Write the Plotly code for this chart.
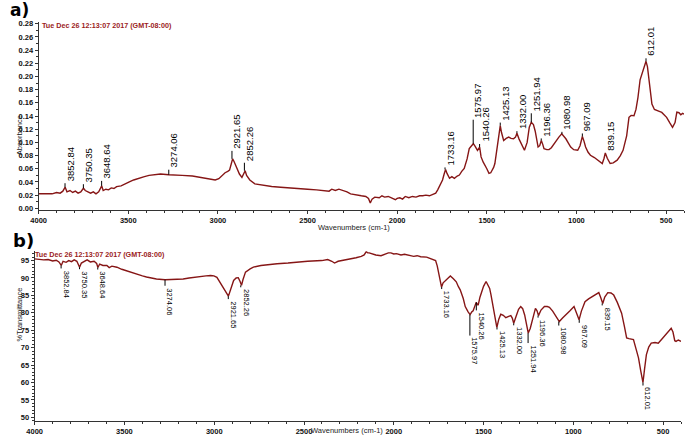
import plotly.graph_objects as go

# ---- data ----
wn_abs = [4000, 3975, 3950, 3925, 3900, 3880, 3865, 3852, 3842, 3825, 3810, 3795, 3780, 3765,
          3750, 3740, 3725, 3710, 3695, 3680, 3665, 3648, 3640, 3625, 3610, 3595, 3580, 3565,
          3540, 3520, 3494, 3470, 3439, 3410, 3384, 3350, 3320, 3274, 3240, 3200, 3142, 3100,
          3070, 3040, 3015, 2995, 2975, 2960, 2945, 2935, 2925, 2918, 2910, 2895, 2880, 2866,
          2855, 2848, 2840, 2822, 2794, 2750, 2700, 2650, 2612, 2550, 2500, 2450, 2400, 2380,
          2365, 2345, 2325, 2310, 2280, 2260, 2230, 2200, 2175, 2160, 2150, 2140, 2125, 2100,
          2085, 2070, 2050, 2030, 2010, 2000, 1985, 1970, 1955, 1935, 1915, 1895, 1875, 1857,
          1840, 1820, 1802, 1785, 1774, 1760, 1747, 1738, 1730, 1722, 1715, 1708, 1695, 1681,
          1665, 1653, 1640, 1626, 1610, 1598, 1585, 1575, 1565, 1552, 1540, 1532, 1520, 1510,
          1500, 1488, 1478, 1472, 1462, 1455, 1445, 1433, 1425, 1418, 1406, 1392, 1378, 1365,
          1351, 1340, 1332, 1320, 1307, 1290, 1275, 1263, 1252, 1240, 1230, 1214, 1205, 1196,
          1188, 1181, 1165, 1153, 1140, 1126, 1110, 1098, 1082, 1070, 1059, 1045, 1032, 1015,
          993, 980, 967, 958, 949, 935, 922, 900, 883, 870, 856, 846, 839, 828, 812, 795, 773,
          755, 740, 720, 707, 695, 679, 668, 657, 645, 629, 620, 612, 604, 596, 585, 579, 565,
          552, 538, 524, 510, 497, 480, 464, 450, 440, 428, 418, 408, 400]
absorbance = [0.022, 0.022, 0.023, 0.022, 0.024, 0.023, 0.026, 0.032, 0.025, 0.027, 0.024, 0.026,
              0.023, 0.025, 0.0305, 0.027, 0.025, 0.023, 0.025, 0.022, 0.025, 0.034, 0.027, 0.029,
              0.028, 0.031, 0.030, 0.033, 0.034, 0.037, 0.040, 0.043, 0.046, 0.048, 0.050, 0.051,
              0.052, 0.051, 0.051, 0.050, 0.049, 0.047, 0.046, 0.045, 0.043, 0.045, 0.050, 0.054,
              0.056, 0.058, 0.068, 0.075, 0.071, 0.060, 0.052, 0.047, 0.052, 0.057, 0.050, 0.043,
              0.037, 0.035, 0.033, 0.032, 0.031, 0.030, 0.029, 0.028, 0.027, 0.026, 0.029, 0.027,
              0.029, 0.028, 0.025, 0.022, 0.020, 0.019, 0.018, 0.015, 0.008, 0.014, 0.017, 0.016,
              0.019, 0.017, 0.018, 0.016, 0.013, 0.015, 0.016, 0.014, 0.018, 0.016, 0.018, 0.017,
              0.019, 0.019, 0.020, 0.019, 0.021, 0.023, 0.028, 0.036, 0.043, 0.052, 0.059, 0.053,
              0.050, 0.0455, 0.048, 0.0455, 0.049, 0.0505, 0.056, 0.0605, 0.075, 0.0905, 0.095,
              0.098, 0.094, 0.088, 0.093, 0.078, 0.070, 0.0655, 0.060, 0.053, 0.054, 0.057, 0.062,
              0.068, 0.085, 0.108, 0.1255, 0.115, 0.103, 0.106, 0.108, 0.106, 0.1055, 0.108, 0.114,
              0.105, 0.098, 0.088, 0.100, 0.123, 0.1305, 0.127, 0.117, 0.093, 0.095, 0.103, 0.097,
              0.0905, 0.089, 0.089, 0.092, 0.098, 0.104, 0.108, 0.113, 0.109, 0.1055, 0.099, 0.093,
              0.089, 0.088, 0.095, 0.109, 0.102, 0.093, 0.085, 0.0805, 0.077, 0.074, 0.071, 0.068,
              0.076, 0.084, 0.076, 0.068, 0.069, 0.073, 0.080, 0.088, 0.110, 0.138, 0.141, 0.1405,
              0.150, 0.168, 0.195, 0.208, 0.215, 0.223, 0.215, 0.198, 0.172, 0.158, 0.150, 0.148,
              0.147, 0.1455, 0.142, 0.138, 0.130, 0.123, 0.130, 0.146, 0.145, 0.142, 0.144, 0.143]

wn_trans = [4000, 3975, 3950, 3925, 3900, 3880, 3865, 3852, 3842, 3825, 3810, 3795, 3780, 3765,
            3750, 3740, 3725, 3708, 3690, 3669, 3655, 3648, 3638, 3620, 3598, 3585, 3570, 3542,
            3515, 3487, 3460, 3432, 3400, 3377, 3350, 3322, 3274, 3250, 3210, 3173, 3140, 3101,
            3070, 3046, 3020, 3002, 2985, 2975, 2960, 2947, 2935, 2921, 2910, 2900, 2892, 2878,
            2866, 2856, 2848, 2840, 2826, 2800, 2782, 2740, 2700, 2650, 2589, 2540, 2480, 2401,
            2368, 2345, 2330, 2310, 2290, 2275, 2240, 2210, 2181, 2165, 2153, 2145, 2137, 2120,
            2100, 2071, 2050, 2030, 2016, 2000, 1985, 1960, 1940, 1920, 1889, 1870, 1850, 1817,
            1800, 1780, 1767, 1758, 1751, 1742, 1734, 1725, 1712, 1700, 1685, 1668, 1652, 1640,
            1630, 1613, 1602, 1586, 1575, 1565, 1558, 1548, 1541, 1535, 1530, 1520, 1514, 1500,
            1486, 1475, 1466, 1459, 1445, 1435, 1426, 1415, 1404, 1390, 1376, 1360, 1348, 1340,
            1332, 1320, 1305, 1293, 1282, 1271, 1260, 1251, 1240, 1227, 1211, 1202, 1194, 1180,
            1161, 1145, 1133, 1115, 1095, 1078, 1060, 1045, 1020, 996, 985, 968, 955, 935, 915,
            896, 875, 858, 848, 836, 825, 808, 790, 775, 755, 731, 715, 703, 690, 665, 650, 637,
            625, 612, 603, 593, 580, 566, 545, 527, 510, 494, 475, 455, 445, 435, 428, 415, 400]
transmittance = [95.5, 95.3, 95.2, 95.3, 94.9, 95.1, 94.6, 93.6, 94.8, 94.5, 95.0, 94.7, 95.2,
                 94.8, 93.1, 94.3, 94.8, 95.2, 94.6, 94.8, 94.2, 93.0, 94.0, 93.6, 93.6, 93.0,
                 93.4, 93.1, 92.5, 92.0, 91.5, 91.0, 90.6, 90.3, 90.0, 89.7, 89.5, 89.5, 89.6,
                 89.7, 90.0, 90.3, 90.5, 90.6, 90.7, 90.6, 90.2, 89.3, 88.2, 87.0, 86.0, 84.8,
                 86.5, 88.5, 89.3, 90.0, 90.1, 89.0, 87.9, 89.5, 91.7, 92.6, 93.1, 93.6, 93.9,
                 94.1, 94.3, 94.6, 94.8, 95.0, 95.3, 94.8, 94.3, 94.8, 95.0, 95.0, 95.5, 95.8,
                 96.2, 96.6, 97.6, 97.2, 97.2, 96.9, 96.6, 96.4, 96.8, 97.2, 97.2, 96.9, 97.0,
                 96.6, 96.8, 96.5, 96.2, 96.4, 96.1, 96.0, 95.7, 95.3, 95.0, 93.5, 91.7, 89.5,
                 87.4, 88.6, 89.3, 90.0, 90.6, 89.8, 88.9, 87.5, 86.6, 84.1, 81.8, 80.3, 79.5,
                 80.3, 80.6, 82.0, 83.0, 82.5, 82.2, 84.5, 85.5, 87.6, 89.0, 88.0, 87.0, 85.3,
                 81.5, 78.0, 75.8, 78.2, 79.6, 79.3, 78.6, 79.0, 79.2, 78.5, 77.0, 78.8, 81.0,
                 81.8, 81.2, 79.4, 76.5, 74.2, 75.5, 78.4, 81.3, 80.6, 79.2, 80.8, 81.8, 81.8,
                 81.6, 80.5, 78.8, 77.5, 78.5, 79.2, 80.5, 81.8, 80.5, 78.0, 80.5, 83.2, 84.0,
                 84.6, 85.2, 85.8, 84.5, 82.7, 84.5, 85.8, 85.7, 85.1, 83.0, 79.9, 76.0, 72.8,
                 72.6, 72.3, 69.5, 67.1, 63.5, 60.0, 64.0, 68.0, 70.2, 71.3, 71.5, 71.3, 72.3,
                 73.2, 74.5, 75.6, 74.5, 72.0, 71.8, 72.2, 71.8]

peak_labels = ["3852.84", "3750.35", "3648.64", "3274.06", "2921.65", "2852.26", "1733.16",
               "1575.97", "1540.26", "1425.13", "1332.00", "1251.94", "1196.36", "1080.98",
               "967.09", "839.15", "612.01"]
peak_abs = [0.032, 0.0305, 0.034, 0.051, 0.075, 0.057, 0.059, 0.098, 0.093, 0.1255, 0.114,
            0.1305, 0.103, 0.113, 0.109, 0.084, 0.223]
peak_trans = [93.6, 93.1, 93.0, 89.5, 84.8, 87.9, 87.4, 79.5, 83.0, 75.8, 77.0, 74.2, 79.2,
              77.5, 78.0, 82.7, 60.0]

abs_ticks = [round(0.02 * i, 2) for i in range(15)]
trans_ticks = list(range(50, 100, 5))
wn_ticks = list(range(4000, 0, -500))

# ---- styling / layout helpers ----
W, H = 685, 444
LINE = "#861616"
STAMP = "Tue Dec 26 12:13:07 2017 (GMT-08:00)"
FONT = "Liberation Sans"
# label stem length in px (from peak to label)
stem_a = [4, 4, 5, 5, 8, 8, 2, 24, 3, 3, 2, 9, 2, 2, 3, 0, 3]
stem_b = [3, 2, 2, 6, 3, 2, 2, 21, 8, 2, 2, 10, 2, 4, 3, 2, 3]


def px(v, total):
    return v / total


fig = go.Figure()
fig.add_trace(go.Scatter(x=wn_abs, y=absorbance, mode="lines", xaxis="x", yaxis="y",
                         line=dict(color=LINE, width=1.4), showlegend=False))
fig.add_trace(go.Scatter(x=wn_trans, y=transmittance, mode="lines", xaxis="x2", yaxis="y2",
                         line=dict(color=LINE, width=1.4), showlegend=False))

tick_font = dict(family=FONT, size=7.5, color="#111", weight="bold")
axis_common = dict(showline=True, linecolor="#333", linewidth=1, showgrid=False,
                   zeroline=False, ticks="outside", ticklen=3, tickcolor="#333",
                   tickfont=tick_font)
minor_x = dict(dtick=100, ticklen=2, ticks="outside", tickcolor="#333")

fig.update_layout(
    width=W, height=H,
    margin=dict(l=0, r=0, t=0, b=0),
    paper_bgcolor="white", plot_bgcolor="white",
    xaxis=dict(domain=[px(31, W), px(684, W)], range=[4000, 400], anchor="y",
               tickvals=wn_ticks, minor=minor_x, **axis_common),
    yaxis=dict(domain=[1 - px(210, H), 1 - px(20, H)], range=[-0.002, 0.283], anchor="x",
               tickvals=abs_ticks, tickformat=".2f",
               minor=dict(dtick=0.01, ticklen=2, ticks="outside", tickcolor="#333"),
               **axis_common),
    xaxis2=dict(domain=[px(27, W), px(681, W)], range=[4000, 400], anchor="y2",
                tickvals=wn_ticks, minor=minor_x, **axis_common),
    yaxis2=dict(domain=[1 - px(424, H), 1 - px(252, H)], range=[48.9, 97.7], anchor="x2",
                tickvals=trans_ticks,
                minor=dict(dtick=1, ticklen=2, ticks="outside", tickcolor="#333"),
                **axis_common),
)

annotations = []
shapes = []
for lab, a, t, sa, sb in zip(peak_labels, peak_abs, peak_trans, stem_a, stem_b):
    w = float(lab)
    shapes.append(dict(type="line", xref="x", yref="y", ysizemode="pixel", yanchor=a,
                       x0=w, x1=w, y0=0, y1=sa, line=dict(color="black", width=1)))
    annotations.append(dict(x=w, y=a, xref="x", yref="y", text=lab, showarrow=False,
                            textangle=-90, xanchor="center", yanchor="bottom",
                            yshift=sa, xshift=5,
                            font=dict(family=FONT, size=9.5, color="black")))
    shapes.append(dict(type="line", xref="x2", yref="y2", ysizemode="pixel", yanchor=t,
                       x0=w, x1=w, y0=0, y1=-sb, line=dict(color="black", width=1)))
    annotations.append(dict(x=w, y=t, xref="x2", yref="y2", text=lab, showarrow=False,
                            textangle=90, xanchor="center", yanchor="top",
                            yshift=-sb, xshift=5,
                            font=dict(family=FONT, size=7.5, color="black")))

# panel letters, time stamps and axis titles
annotations += [
    dict(x=0, y=1, xref="paper", yref="paper", text="<b>a)</b>", showarrow=False,
         xanchor="left", yanchor="top", yshift=4,
         font=dict(family="DejaVu Sans", size=17, color="black")),
    dict(x=px(3, W), y=1 - px(229, H), xref="paper", yref="paper", text="<b>b)</b>",
         showarrow=False, xanchor="left", yanchor="top",
         font=dict(family="DejaVu Sans", size=18, color="black")),
    dict(x=px(32, W), y=1 - px(24, H), xref="paper", yref="paper", text="<b>" + STAMP + "</b>",
         showarrow=False, xanchor="left", yanchor="middle",
         font=dict(family=FONT, size=7.2, color="#9b1c1c")),
    dict(x=px(25, W), y=1 - px(255, H), xref="paper", yref="paper", text="<b>" + STAMP + "</b>",
         showarrow=False, xanchor="left", yanchor="middle",
         font=dict(family=FONT, size=7.2, color="#9b1c1c")),
    dict(x=px(5, W), y=1 - px(112, H), xref="paper", yref="paper", text="Absorbance",
         showarrow=False, textangle=-90, font=dict(family=FONT, size=7.5, color="#222")),
    dict(x=px(5, W), y=1 - px(345, H), xref="paper", yref="paper", text="%Transmittance",
         showarrow=False, textangle=-90, font=dict(family=FONT, size=7.5, color="#222")),
    dict(x=px(350, W), y=1 - px(228, H), xref="paper", yref="paper", text="Wavenumbers (cm-1)",
         showarrow=False, font=dict(family=FONT, size=7.5, color="#222")),
    dict(x=px(343, W), y=1 - px(440, H), xref="paper", yref="paper", text="Wavenumbers (cm-1)",
         showarrow=False, font=dict(family=FONT, size=7.5, color="#222")),
]

fig.update_layout(annotations=annotations, shapes=shapes)
# the default page keeps an 8px body margin; drop it so the 685x444 figure fills the window
fig.write_html("out.html", config={"displayModeBar": False},
               post_script="document.body.style.margin='0';")
